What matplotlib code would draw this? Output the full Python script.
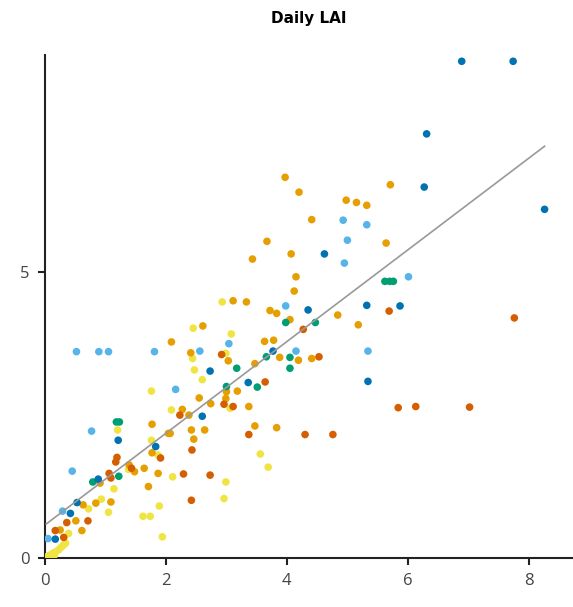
import matplotlib
matplotlib.use("Agg")
import matplotlib.pyplot as plt
import numpy as np

# values
dark_blue_x = [6.89, 7.74, 6.31, 6.27, 8.26, 4.62, 4.35, 5.32, 5.87, 5.34, 3.77, 2.73,
               3.36, 2.60, 1.83, 1.21, 0.88, 0.53, 0.42, 0.17]
dark_blue_y = [8.69, 8.69, 7.42, 6.49, 6.10, 5.32, 4.34, 4.42, 4.41, 3.09, 3.62, 3.27,
               3.07, 2.48, 1.95, 2.06, 1.38, 0.97, 0.78, 0.33]

sky_blue_x = [0.52, 0.89, 1.05, 1.81, 4.93, 5.32, 5.00, 4.95, 6.01, 5.34, 3.98, 3.04,
              2.56, 4.15, 2.16, 0.77, 0.45, 0.29, 0.05]
sky_blue_y = [3.61, 3.61, 3.61, 3.61, 5.91, 5.83, 5.56, 5.16, 4.92, 3.62, 4.41, 3.75,
              3.62, 3.62, 2.95, 2.22, 1.52, 0.82, 0.34]

orange_x = [3.97, 4.20, 5.71, 4.98, 5.15, 5.32, 4.41, 5.64, 3.67, 3.43, 4.07, 4.15,
            4.12, 3.11, 3.33, 3.72, 3.83, 4.05, 4.84, 5.18, 2.61, 2.09, 3.63, 3.78,
            2.41, 3.88, 4.19, 4.41, 3.03, 3.47, 2.55, 3.00, 3.18, 2.99, 2.74, 3.37,
            2.27, 2.38, 2.07, 2.42, 2.64, 2.46, 3.47, 3.83, 1.77, 2.04, 1.77, 1.64,
            1.87, 1.71, 1.39, 1.48, 0.91, 1.09, 0.63, 0.84, 0.51, 0.61, 0.25]
orange_y = [6.66, 6.40, 6.53, 6.26, 6.22, 6.17, 5.92, 5.51, 5.54, 5.23, 5.32, 4.92,
            4.67, 4.50, 4.48, 4.33, 4.28, 4.17, 4.25, 4.08, 4.06, 3.78, 3.79, 3.81,
            3.59, 3.51, 3.46, 3.49, 3.45, 3.40, 2.80, 2.91, 2.92, 2.79, 2.70, 2.65,
            2.60, 2.50, 2.18, 2.24, 2.24, 2.08, 2.31, 2.28, 2.34, 2.18, 1.84, 1.57,
            1.48, 1.25, 1.63, 1.51, 1.31, 0.98, 0.93, 0.96, 0.65, 0.48, 0.49]

vermillion_x = [7.76, 7.02, 5.84, 6.13, 4.30, 4.76, 5.69, 4.27, 4.53, 3.64, 2.92, 2.96,
                3.11, 2.23, 2.43, 3.37, 2.29, 2.73, 2.42, 1.91, 1.17, 1.19, 1.43, 1.06,
                1.09, 0.36, 0.71, 0.17, 0.31]
vermillion_y = [4.20, 2.64, 2.63, 2.65, 2.16, 2.16, 4.32, 4.00, 3.52, 3.08, 3.56, 2.69,
                2.65, 2.50, 1.89, 2.16, 1.47, 1.45, 1.01, 1.75, 1.68, 1.76, 1.57, 1.48,
                1.40, 0.62, 0.65, 0.48, 0.36]

yellow_x = [2.93, 2.45, 3.08, 2.99, 2.44, 2.47, 2.60, 3.06, 2.09, 1.76, 1.76, 1.87,
            3.56, 3.69, 2.11, 2.99, 2.96, 1.89, 1.62, 1.74, 1.94, 1.20, 1.38, 1.14,
            0.93, 1.05, 0.72, 0.39, 0.02, 0.06, 0.10, 0.14, 0.18, 0.22, 0.26, 0.30,
            0.34, 0.08, 0.15]
yellow_y = [4.48, 4.02, 3.92, 3.58, 3.49, 3.29, 3.12, 2.62, 2.59, 2.92, 2.06, 1.80,
            1.82, 1.59, 1.42, 1.33, 1.04, 0.91, 0.73, 0.73, 0.37, 2.24, 1.55, 1.21,
            1.03, 0.80, 0.86, 0.43, 0.02, 0.04, 0.06, 0.09, 0.11, 0.14, 0.18, 0.22,
            0.26, 0.01, 0.04]

green_x = [5.62, 5.70, 5.76, 4.47, 3.98, 3.66, 4.05, 4.05, 3.17, 3.51, 3.00, 1.18,
           1.23, 0.79, 1.22]
green_y = [4.84, 4.84, 4.84, 4.12, 4.12, 3.52, 3.51, 3.32, 3.32, 2.99, 3.00, 2.38,
           2.38, 1.33, 1.43]

groups = [
    (yellow_x, yellow_y, "#F0E442"),
    (orange_x, orange_y, "#E69F00"),
    (vermillion_x, vermillion_y, "#D55E00"),
    (green_x, green_y, "#009E73"),
    (sky_blue_x, sky_blue_y, "#56B4E9"),
    (dark_blue_x, dark_blue_y, "#0072B2"),
]

fig = plt.figure(figsize=(5.73, 6.07), dpi=100)
ax = fig.add_axes([45 / 573, 1 - 558 / 607, 1 - 45 / 573, (558 - 55) / 607])

for xs, ys, col in groups:
    ax.scatter(xs, ys, s=30, color=col, edgecolors="none", zorder=3)

all_x = np.concatenate([g[0] for g in groups])
all_y = np.concatenate([g[1] for g in groups])
slope, intercept = np.polyfit(all_x, all_y, 1)
fit_x = np.array([all_x.min(), all_x.max()])
ax.plot(fit_x, intercept + slope * fit_x, color="#999999", lw=1.2, zorder=4)

ax.set_xlim(0, 8.73)
ax.set_ylim(0, 8.8)
ax.set_xticks([0, 2, 4, 6, 8])
ax.set_yticks([0, 5])

for side in ["top", "right"]:
    ax.spines[side].set_visible(False)
for side in ["left", "bottom"]:
    ax.spines[side].set_linewidth(1.5)
    ax.spines[side].set_color("#222222")

ax.tick_params(direction="out", length=5, width=1.5, color="#222222",
               labelsize=12, labelcolor="#444444", pad=6)
for lab in ax.get_xticklabels() + ax.get_yticklabels():
    lab.set_fontfamily("Open Sans")

ax.set_title("Daily LAI", fontsize=11, fontweight="bold", pad=23)

fig.savefig("out.png", dpi=100)
